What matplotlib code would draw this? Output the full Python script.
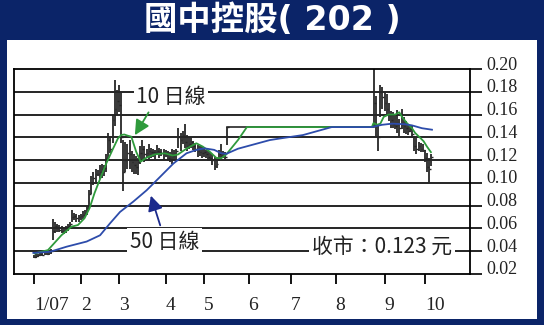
import matplotlib
matplotlib.use("Agg")
import matplotlib.pyplot as plt
from matplotlib.patches import Rectangle
from matplotlib.transforms import ScaledTranslation

plt.rcParams['font.family'] = ['Noto Sans CJK TC', 'DejaVu Sans']

# ---- data (trading-day index from 2 Jan 2007) ----
title = "國中控股( 202 )"
month_pos = [0, 22, 40, 62, 80, 101, 121, 142, 165, 184]
month_labels = ["1/07", "2", "3", "4", "5", "6", "7", "8", "9", "10"]
y_ticks = [0.02, 0.04, 0.06, 0.08, 0.10, 0.12, 0.14, 0.16, 0.18, 0.20]

# before suspension: days 0..91
pre_high = [.037, .038, .038, .040, .039, .040, .041, .040, .042, .068,
            .066, .064, .063, .062, .061, .062, .064, .066, .076, .074,
            .073, .072, .073, .075, .076, .080, .094, .106, .110, .112,
            .111, .116, .117, .116, .125, .144, .140, .160, .190, .182,
            .186, .180, .138, .136, .134, .138, .128, .125, .124, .122,
            .132, .138, .132, .130, .134, .131, .130, .129, .133, .131,
            .130, .130, .129, .128, .127, .130, .129, .130, .148, .144,
            .146, .152, .142, .140, .140, .137, .135, .133, .132, .132,
            .130, .129, .128, .127, .125, .123, .122, .129, .134, .128,
            .127, .149]
pre_low = [.034, .034, .035, .036, .036, .037, .037, .037, .038, .050,
           .056, .057, .057, .056, .055, .056, .058, .060, .066, .067,
           .066, .066, .067, .068, .070, .072, .077, .090, .098, .101,
           .106, .103, .104, .106, .110, .122, .126, .135, .150, .160,
           .162, .135, .093, .110, .112, .112, .110, .108, .108, .107,
           .117, .121, .118, .122, .121, .122, .123, .121, .125, .122,
           .124, .121, .123, .119, .118, .117, .120, .121, .131, .128,
           .134, .131, .128, .130, .131, .129, .127, .123, .124, .122,
           .123, .122, .119, .119, .116, .111, .113, .119, .120, .122,
           .121, .133]
pre_close = [.035, .036, .037, .038, .037, .039, .038, .039, .040, .058,
             .062, .060, .059, .058, .058, .060, .062, .064, .070, .071,
             .069, .070, .071, .072, .074, .078, .090, .100, .104, .108,
             .108, .110, .112, .113, .122, .138, .130, .155, .165, .172,
             .168, .140, .110, .120, .126, .125, .118, .116, .114, .118,
             .126, .130, .125, .126, .128, .127, .127, .126, .128, .127,
             .126, .127, .125, .122, .121, .124, .125, .128, .140, .138,
             .142, .136, .132, .134, .136, .132, .130, .128, .127, .126,
             .127, .125, .123, .122, .120, .115, .117, .125, .124, .126,
             .123, .149]

# suspension: price held flat
halt_day = [91, 160]
halt_price = [0.149, 0.149]

# after resumption: days 160..187
post_high = [.200, .176, .150, .186, .184, .180, .178, .170, .163, .162,
             .160, .164, .156, .165, .158, .154, .152, .151, .151, .141,
             .139, .136, .135, .134, .129, .126, .122, .125]
post_low = [.149, .140, .128, .158, .165, .163, .160, .154, .148, .148,
            .147, .144, .140, .147, .144, .143, .142, .145, .139, .128,
            .125, .128, .127, .127, .118, .110, .100, .115]
post_close = [.170, .150, .140, .180, .175, .170, .165, .160, .155, .152,
              .150, .152, .148, .152, .150, .148, .146, .147, .143, .132,
              .130, .132, .130, .129, .122, .114, .112, .123]
last_close = 0.123

# moving averages
ma10_day = [0.3, 6.6, 12.9, 17.6, 20.7, 23.8, 26.2, 28.5, 30.9, 34, 37.2, 39.5,
            41, 42.5, 44.2, 45.8, 48.1, 50.2, 52.8, 56.8, 61.5, 65.4, 67.8, 71.7,
            76.4, 79.5, 82.7, 85.8, 88.1, 90.5, 96, 100.2, 159, 159.8, 161.4, 163,
            164.6, 166.9, 170, 171.9, 173.2, 175.5, 177.9, 179.4, 181.8, 183.4,
            184.9, 186.8]
ma10_val = [0.038, 0.041, 0.054, 0.0615, 0.063, 0.069, 0.078, 0.091, 0.1025,
            0.117, 0.130, 0.139, 0.142, 0.1425, 0.1414, 0.1406, 0.1274, 0.1186,
            0.122, 0.125, 0.126, 0.124, 0.125, 0.130, 0.1348, 0.1318, 0.1274,
            0.122, 0.1216, 0.125, 0.1376, 0.149, 0.149, 0.1525, 0.151, 0.152,
            0.158, 0.160, 0.160, 0.162, 0.158, 0.1525, 0.148, 0.1438, 0.1395,
            0.1365, 0.132, 0.127]
ma50_day = [-0.3, 7.5, 15.4, 24.8, 31.1, 35.8, 40.5, 46.7, 53, 59.3, 65.6, 71.8,
            76.5, 80.3, 84.8, 88.1, 90.5, 96, 111, 115.8, 126.6, 140.1, 159,
            163.8, 168.5, 174.7, 177.9, 182.6, 187.3]
ma50_val = [0.0385, 0.0395, 0.044, 0.0485, 0.054, 0.0645, 0.0745, 0.0835,
            0.0935, 0.1052, 0.117, 0.126, 0.129, 0.1303, 0.129, 0.126, 0.1255,
            0.130, 0.1376, 0.139, 0.142, 0.149, 0.149, 0.151, 0.152, 0.1515,
            0.1505, 0.148, 0.1467]

navy = "#0b2468"
ink = "#222222"
green = "#2f9a3c"
blue = "#2d4cab"

fig = plt.figure(figsize=(5.44, 3.25), dpi=100, facecolor=navy)
fig.patches.append(Rectangle((7 / 544, 6 / 325), 530 / 544, 279 / 325,
                             transform=fig.transFigure, facecolor="white",
                             edgecolor="none", zorder=-5))
# latin glyphs from DejaVu (wider), CJK falls back to Noto
fig.text(0.5, 1 - 21 / 325, title, color="white", fontsize=24, fontweight="bold",
         family=["DejaVu Sans", "Noto Sans CJK TC"], ha="center", va="center")

ax = fig.add_axes([14 / 544, 51 / 325, 456 / 544, 205 / 325])
ax.set_zorder(5)
ax.patch.set_alpha(0)
ax.set_xlim(-9.4, 205.2)
ax.set_ylim(0.02, 0.20)

# gridlines
for v in y_ticks[1:-1]:
    ax.axhline(v, color="black", lw=1.2, zorder=1)

# price bars
pre_days = list(range(len(pre_close)))
post_days = list(range(160, 160 + len(post_close)))
bar_c = "#262626"
ax.vlines(pre_days, pre_low, pre_high, color=bar_c, lw=1.3, zorder=2)
ax.hlines(pre_close, pre_days, [d + 0.8 for d in pre_days], color=bar_c, lw=1.0, zorder=2)
ax.vlines(post_days, post_low, post_high, color=bar_c, lw=1.3, zorder=2)
ax.hlines(post_close, post_days, [d + 0.8 for d in post_days], color=bar_c, lw=1.0, zorder=2)
ax.plot(halt_day, halt_price, color=bar_c, lw=1.2, zorder=2)

ax.plot(ma10_day, ma10_val, color=green, lw=1.3, zorder=3)
ax.plot(ma50_day, ma50_val, color=blue, lw=1.3, zorder=3)

# axes frame and ticks
for s in ax.spines.values():
    s.set_linewidth(1.3)
ax.yaxis.tick_right()
ax.set_yticks(y_ticks)
ax.set_yticklabels([f"{v:.2f}" for v in y_ticks], fontfamily="Liberation Serif",
                   fontsize=13, color=ink)
ax.tick_params(axis="y", direction="out", length=8.6, width=1.2, pad=3)
shift = ScaledTranslation(0, 6 / 100, fig.dpi_scale_trans)
for lab in ax.get_yticklabels():
    lab.set_transform(lab.get_transform() + shift)

ax.set_xticks(month_pos)
ax.set_xticklabels(month_labels, fontfamily="Liberation Serif", fontsize=14,
                   color=ink, ha="left")
ax.tick_params(axis="x", direction="out", length=7.5, width=1.3, pad=9)

# annotations
box = dict(facecolor="white", edgecolor="none", pad=2)
ax.text(64.5, 0.1754, "10 日線", fontsize=15, color=ink, ha="center", va="center",
        bbox=box, zorder=4)
ax.text(61.6, 0.0481, "50 日線", fontsize=15, color=ink, ha="center", va="center",
        bbox=box, zorder=4)
ax.text(163.8, 0.0428, f"收市：{last_close} 元", fontsize=15, color=ink,
        ha="center", va="center", bbox=box, zorder=4)
ax.annotate("", xy=(46.8, 0.1398), xytext=(54.6, 0.164),
            arrowprops=dict(arrowstyle="-|>,head_length=0.9,head_width=0.45",
                            color=green, lw=1.3), zorder=5)
ax.annotate("", xy=(54.6, 0.0911), xytext=(59.8, 0.0604),
            arrowprops=dict(arrowstyle="-|>,head_length=0.9,head_width=0.45",
                            color="#1c2a8c", lw=1.3), zorder=5)

fig.savefig("out.png", dpi=100, facecolor=navy)
